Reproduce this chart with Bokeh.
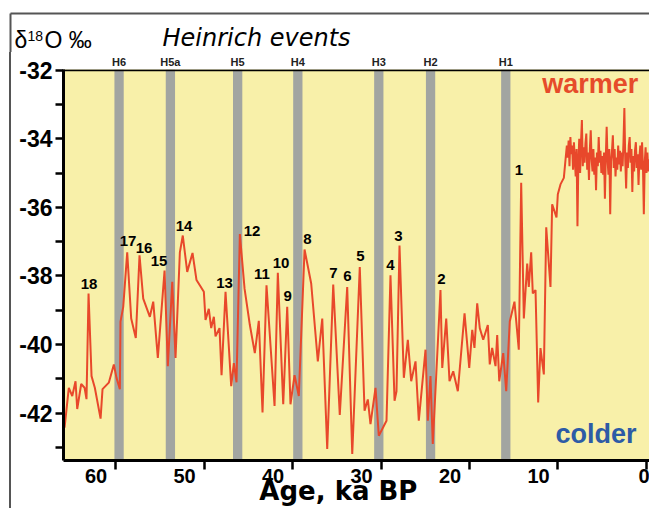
from bokeh.plotting import figure
from bokeh.layouts import column
from bokeh.models import Label, Range1d, FixedTicker, Span, ColumnDataSource, LinearAxis
from bokeh.core.properties import value
from bokeh.embed import file_html
from bokeh.resources import INLINE

# Greenland ice-core d18O record (ka BP, per mil)
ages = [
    65.76, 65.28, 64.89, 64.52, 64.33, 63.88, 63.50, 63.28, 63.05, 62.71,
    62.34, 61.69, 61.47, 60.76, 60.19, 59.89, 59.51, 59.44, 59.13, 58.68,
    58.23, 57.71, 57.29, 56.87, 56.12, 55.74, 55.22, 54.46, 54.09, 53.59,
    53.22, 52.73, 52.40, 51.90, 51.30, 50.85, 50.02, 49.83, 49.46, 49.19,
    48.89, 48.70, 48.25, 48.02, 47.57, 46.93, 46.63, 46.33, 45.95, 45.42,
    44.82, 44.26, 43.81, 43.39, 42.94, 42.03, 41.66, 41.05, 40.60, 40.23,
    39.77, 39.29, 38.64, 37.89, 37.14, 36.64, 36.08, 35.40, 34.66, 33.82,
    33.25, 32.40, 31.86, 31.49, 31.19, 30.62, 30.25, 29.38, 28.93, 28.47,
    28.25, 27.91, 27.42, 26.97, 26.59, 26.10, 25.73, 24.97, 24.71, 24.41,
    24.15, 23.28, 23.08, 22.63, 22.26, 21.84, 21.32, 20.56, 20.03, 19.69,
    19.44, 19.13, 18.84, 18.45, 17.93, 17.71, 17.44, 17.06, 16.87, 16.64,
    16.19, 15.85, 15.45, 14.92, 14.43, 14.16, 13.86, 13.48, 13.30, 13.03,
    12.85, 12.54, 12.24, 11.98, 11.60, 11.33, 10.85, 10.66, 10.17, 10.02,
    9.72, 9.34, 9.15,
    9.0, 8.9, 8.8, 8.7, 8.6, 8.5, 8.4, 8.3, 8.2, 8.1,
    8.0, 7.9, 7.8, 7.7, 7.6, 7.5, 7.4, 7.3, 7.2, 7.1,
    7.0, 6.9, 6.8, 6.7, 6.6, 6.5, 6.4, 6.3, 6.2, 6.1,
    6.0, 5.9, 5.8, 5.7, 5.6, 5.5, 5.4, 5.3, 5.2, 5.1,
    5.0, 4.9, 4.8, 4.7, 4.6, 4.5, 4.4, 4.3, 4.2, 4.1,
    4.0, 3.9, 3.8, 3.7, 3.6, 3.5, 3.4, 3.3, 3.2, 3.1,
    3.0, 2.9, 2.8, 2.7, 2.6, 2.5, 2.4, 2.3, 2.2, 2.1,
    2.0, 1.9, 1.8, 1.7, 1.6, 1.5, 1.4, 1.3, 1.2, 1.1,
    1.0, 0.9, 0.8, 0.7, 0.6, 0.5, 0.4, 0.3, 0.2, 0.1,
    0.0, -0.1, -0.2, -0.3,
]
d18o = [
    -42.42, -41.26, -41.50, -41.07, -41.88, -41.15, -41.26, -41.59, -38.51, -40.92,
    -41.26, -42.16, -41.30, -41.11, -40.58, -40.97, -41.30, -39.33, -38.90, -37.31,
    -39.24, -39.81, -37.40, -38.66, -39.19, -38.75, -40.39, -37.84, -40.63, -38.17,
    -40.39, -37.31, -36.82, -37.88, -37.33, -38.12, -38.46, -39.28, -38.96, -39.52,
    -39.19, -39.76, -39.52, -40.89, -38.46, -41.21, -40.54, -41.10, -36.78, -38.37,
    -39.43, -40.25, -39.31, -41.98, -38.27, -41.79, -37.91, -41.74, -38.90, -41.74,
    -40.89, -41.50, -37.23, -38.22, -40.49, -39.24, -43.04, -38.25, -42.05, -38.32,
    -43.19, -37.74, -41.93, -41.60, -42.32, -41.26, -42.66, -42.22, -37.98, -41.64,
    -41.36, -37.11, -40.97, -39.86, -41.07, -40.49, -42.22, -40.15, -42.22, -40.92,
    -42.90, -38.41, -40.68, -39.24, -41.07, -40.78, -41.36, -39.09, -40.68, -39.57,
    -40.10, -38.80, -39.52, -39.86, -39.43, -40.58, -40.10, -40.63, -39.72, -41.07,
    -40.25, -41.36, -39.33, -38.75, -40.15, -35.28, -39.24, -37.64, -38.32, -37.31,
    -38.51, -38.41, -41.69, -40.10, -40.87, -36.58, -38.32, -35.91, -36.29, -35.62,
    -35.33, -35.14, -34.61,
    -34.20, -34.55, -34.05, -34.80, -33.95, -34.45, -34.20, -34.90, -34.10, -34.60,
    -35.10, -34.30, -36.55, -34.70, -34.00, -35.00, -34.10, -33.45, -34.80, -34.25,
    -34.70, -34.15, -33.85, -34.90, -34.40, -35.20, -34.30, -33.75, -34.60, -34.95,
    -34.30, -35.05, -34.55, -35.50, -34.40, -34.80, -33.95, -34.70, -34.35, -35.00,
    -34.50, -35.05, -34.40, -35.75, -34.55, -33.65, -34.60, -35.05, -34.30, -36.20,
    -34.65, -34.35, -33.90, -34.85, -34.30, -35.10, -34.55, -34.90, -34.20, -34.75,
    -34.35, -34.95, -34.40, -34.80, -34.10, -33.10, -34.60, -35.45, -34.40, -34.85,
    -34.20, -33.95, -34.70, -34.30, -35.55, -34.50, -34.95, -34.35, -34.10, -34.85,
    -34.45, -35.35, -34.55, -34.20, -34.90, -34.10, -34.80, -36.20, -34.70, -34.25,
    -35.00, -34.40, -34.95, -34.60,
]

# Heinrich events (ka BP)
heinrich_names = ["H6", "H5a", "H5", "H4", "H3", "H2", "H1"]
heinrich_ages = [59.6, 53.8, 46.2, 39.4, 30.25, 24.4, 15.9]

# Dansgaard-Oeschger interstadial numbers and where they are written
do_numbers = ["18", "17", "16", "15", "14", "13", "12", "11", "10", "9",
              "8", "7", "6", "5", "4", "3", "2", "1"]
do_label_ages = [62.99, 58.59, 56.78, 55.08, 52.26, 47.68, 44.58, 43.45, 41.30, 40.56,
                 38.31, 35.37, 33.79, 32.32, 28.93, 28.02, 23.16, 14.41]
do_label_values = [-38.23, -36.99, -37.19, -37.57, -36.55, -38.20, -36.70, -37.94, -37.62, -38.58,
                   -36.93, -37.91, -38.00, -37.42, -37.68, -36.82, -38.09, -34.91]

x_ticks = [60, 50, 40, 30, 20, 10, 0]
x_tick_labels = ["60", "50", "40", "30", "20", "10", "0"]
y_ticks = [-42, -40, -38, -36, -34, -32]
y_tick_labels = ["-42", "-40", "-38", "-36", "-34", "-32"]
y_minor_ticks = [-43, -41, -39, -37, -35, -33]

FONT = "Liberation Sans"
NBSP = "\u00a0"
Y_BOTTOM, Y_TOP = -43.38, -31.98
X_LEFT, X_RIGHT = 65.88, -0.34
PX_PER_KA = 8.849           # horizontal scale shared by both panels
PAGE_LEFT_AGE = X_LEFT + 63 / PX_PER_KA


def no_frame_align(fig):
    try:
        fig.frame_align = False
    except AttributeError:
        pass


# ---------- header strip: quantity symbol and heading ----------
head = figure(width=649, height=52, x_range=Range1d(PAGE_LEFT_AGE, X_RIGHT),
              y_range=Range1d(52, 0), output_backend="svg", toolbar_location=None,
              x_axis_location=None, y_axis_location=None,
              min_border_left=0, min_border_right=0, min_border_top=0, min_border_bottom=0)
no_frame_align(head)
head.outline_line_color = None
head.grid.visible = False
head.background_fill_color = "white"
head.border_fill_color = "white"


def page_age(px):
    return PAGE_LEFT_AGE - px / PX_PER_KA


# panel border (top and left edges)
head.segment(x0=[page_age(10), page_age(10)], y0=[13, 13], x1=[X_RIGHT, page_age(10)], y1=[13, 52],
             line_color="#555555", line_width=2)

head.text(x=[page_age(14)], y=[39], text=["δ"], text_font=value(FONT), text_font_size="23px",
          text_baseline="middle", text_color="black")
head.text(x=[page_age(27)], y=[35.5], text=["18"], text_font=value(FONT), text_font_size="14px",
          text_baseline="middle", text_color="black")
head.text(x=[page_age(44)], y=[39], text=["O ‰"], text_font=value(FONT), text_font_size="23px",
          text_baseline="middle", text_color="black")
head.text(x=[page_age(162)], y=[37.5], text=["Heinrich events"], text_font=value("DejaVu Sans"),
          text_font_style="italic", text_font_size="24px", text_baseline="middle",
          text_color="black")

# ---------- main chart ----------
p = figure(width=649, height=456,
           x_range=Range1d(X_LEFT, X_RIGHT), y_range=Range1d(Y_BOTTOM, Y_TOP),
           output_backend="svg", toolbar_location=None,
           min_border_left=63, min_border_right=0,
           min_border_top=15, min_border_bottom=48)
no_frame_align(p)
p.background_fill_color = "#f8f0a9"
p.border_fill_color = None
p.outline_line_color = None
p.grid.visible = False
p.styles = {"background": "linear-gradient(to right, #ffffff 0px, #ffffff 9px, #555555 9px, "
                          "#555555 11px, #ffffff 11px, #ffffff 100%)"}

# y axis
yax = p.yaxis[0]
yax.ticker = FixedTicker(ticks=y_ticks, minor_ticks=y_minor_ticks)
yax.major_label_overrides = {t: s for t, s in zip(y_ticks, y_tick_labels)}
yax.axis_line_width = 3
yax.axis_line_color = "black"
yax.major_tick_in = 0
yax.major_tick_out = 8
yax.minor_tick_in = 0
yax.minor_tick_out = 8
yax.major_tick_line_width = 2.5
yax.minor_tick_line_width = 2.5
yax.major_label_standoff = 3
yax.major_label_text_font = FONT
yax.major_label_text_font_style = "bold"
yax.major_label_text_font_size = "23px"
yax.major_label_text_color = "black"

# x axis: labels sit just left of their ticks
pads = {60: 7, 50: 7, 40: 7, 30: 7, 20: 7, 10: 7, 0: 0}
xax = p.xaxis[0]
xax.ticker = FixedTicker(ticks=x_ticks)
xax.major_label_overrides = {t: s + NBSP * pads[t] for t, s in zip(x_ticks, x_tick_labels)}
xax.axis_line_width = 3
xax.axis_line_color = "black"
xax.major_tick_in = 0
xax.major_tick_out = 9
xax.minor_tick_in = 0
xax.minor_tick_out = 0
xax.minor_tick_line_color = None
xax.major_tick_line_width = 2.5
xax.major_label_standoff = -5
xax.major_label_text_font = FONT
xax.major_label_text_font_style = "bold"
xax.major_label_text_font_size = "20px"
xax.major_label_text_color = "black"
xax.axis_label = "Age, ka BP" + NBSP * 4
xax.axis_label_standoff = -14
xax.axis_label_text_font = "DejaVu Sans"
xax.axis_label_text_font_style = "bold"
xax.axis_label_text_font_size = "26px"
xax.axis_label_text_color = "black"

# Heinrich event names along the top edge
hax = LinearAxis(ticker=FixedTicker(ticks=heinrich_ages, minor_ticks=[]),
                 major_label_overrides={a: n for a, n in zip(heinrich_ages, heinrich_names)})
hax.axis_line_color = None
hax.major_tick_line_color = None
hax.minor_tick_line_color = None
hax.major_tick_in = 0
hax.major_tick_out = 0
hax.minor_tick_in = 0
hax.minor_tick_out = 0
hax.axis_label_standoff = 0
hax.major_label_standoff = 2
hax.major_label_text_font = FONT
hax.major_label_text_font_style = "bold"
hax.major_label_text_font_size = "11px"
hax.major_label_text_color = "#222222"
p.add_layout(hax, "above")

# top frame edge
p.add_layout(Span(location=-32.0, dimension="width", line_color="black", line_width=2))

# Heinrich event bands
p.vbar(x=heinrich_ages, width=1.05, bottom=Y_BOTTOM, top=Y_TOP,
       fill_color="#a2a5a1", line_color=None)

# isotope curve
p.line(ages, d18o, line_color="#e8482b", line_width=2)

# interstadial numbers
src = ColumnDataSource(dict(x=do_label_ages, y=do_label_values, t=do_numbers))
p.text(x="x", y="y", text="t", source=src, text_align="center", text_baseline="middle",
       text_font=value(FONT), text_font_style="bold", text_font_size="15px",
       text_color="black")

p.add_layout(Label(x=11.79, y=-32.40, text="warmer", text_align="left", text_baseline="middle",
                   text_font=FONT, text_font_style="bold", text_font_size="27px",
                   text_color="#e64b2a"))
p.add_layout(Label(x=10.28, y=-42.60, text="colder", text_align="left", text_baseline="middle",
                   text_font=FONT, text_font_style="bold", text_font_size="27px",
                   text_color="#2d5ba6"))

layout = column(head, p, spacing=0)
open("out.html", "w").write(file_html(layout, INLINE))
